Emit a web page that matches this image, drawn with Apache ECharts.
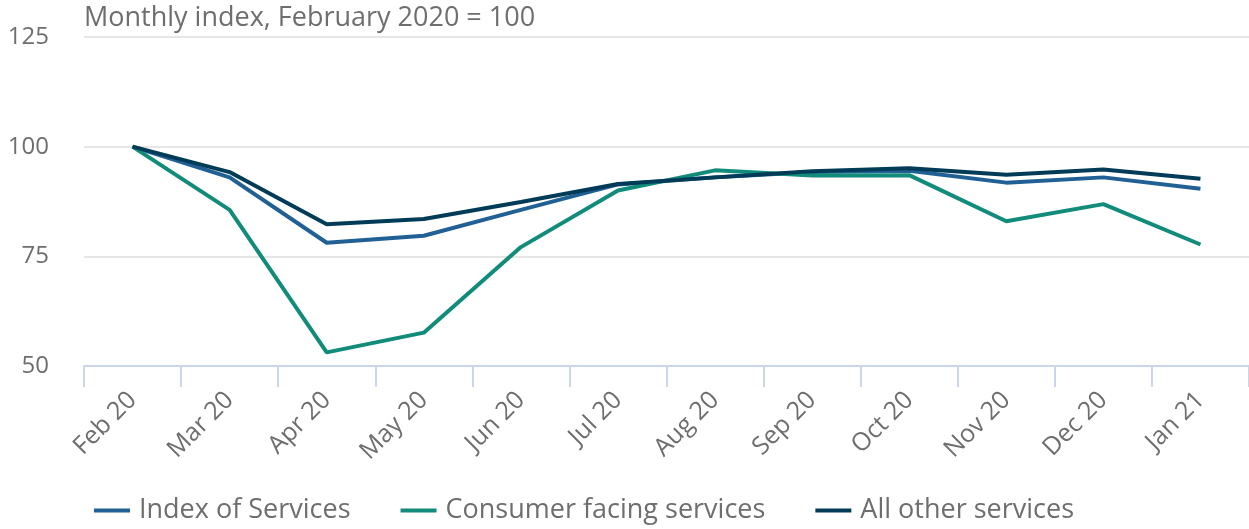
<!DOCTYPE html>
<html>
<head>
    <meta charset="utf-8">
    <title>Index of Services</title>
    <style>
        html, body { margin: 0; padding: 0; background: #fff; }
        #chart { width: 1249px; height: 529px; }
    </style>
</head>
<body>
<div id="chart"></div>
<script src="https://cdn.jsdelivr.net/npm/echarts@6/dist/echarts.min.js"></script>
<script>
    var months = ['Feb 20', 'Mar 20', 'Apr 20', 'May 20', 'Jun 20', 'Jul 20',
                  'Aug 20', 'Sep 20', 'Oct 20', 'Nov 20', 'Dec 20', 'Jan 21'];
    var indexOfServices = [100, 93.0, 78.1, 79.7, 85.6, 91.4, 93.0, 94.2, 94.5, 91.8, 93.0, 90.4];
    var consumerFacing  = [100, 85.6, 53.1, 57.6, 77.1, 90.0, 94.6, 93.4, 93.5, 83.0, 86.9, 77.7];
    var allOther        = [100, 94.2, 82.3, 83.5, 87.4, 91.5, 93.0, 94.4, 95.1, 93.6, 94.8, 92.7];

    var fontName = '"Open Sans", sans-serif';
    var greyText = '#6e6e6e';

    function lineSeries(name, color, data) {
        return {
            name: name,
            type: 'line',
            data: data,
            symbol: 'none',
            lineStyle: { color: color, width: 4 },
            itemStyle: { color: color },
            emphasis: { disabled: true }
        };
    }

    var myChart = echarts.init(document.getElementById('chart'));
    var option = {
        animation: false,
        textStyle: { fontFamily: fontName },
        title: {
            text: 'Monthly index, February 2020 = 100',
            left: 84,
            top: 5,
            padding: 0,
            textStyle: { color: greyText, fontSize: 27, fontWeight: 'normal', fontFamily: fontName }
        },
        legend: {
            bottom: 0,
            left: 89,
            itemWidth: 36,
            itemHeight: 4,
            itemGap: 50,
            icon: 'rect',
            textStyle: { color: greyText, fontSize: 27, fontFamily: fontName, padding: [0, 0, 0, 4] },
            data: ['Index of Services', 'Consumer facing services', 'All other services']
        },
        grid: { left: 84, right: -2, top: 37, bottom: 163 },
        xAxis: {
            type: 'category',
            data: months,
            boundaryGap: true,
            axisLine: { lineStyle: { color: '#ccd6eb', width: 2 } },
            axisTick: { show: true, length: 21, lineStyle: { color: '#ccd6eb', width: 2 } },
            axisLabel: { rotate: 45, color: greyText, fontSize: 25, fontFamily: fontName, margin: 30 }
        },
        yAxis: {
            type: 'value',
            min: 50,
            max: 125,
            interval: 25,
            axisLine: { show: false },
            axisTick: { show: false },
            axisLabel: { color: greyText, fontSize: 24, fontFamily: fontName, margin: 35 },
            splitLine: { lineStyle: { color: '#e6e6e6', width: 2 } }
        },
        series: [
            lineSeries('Index of Services', '#206095', indexOfServices),
            lineSeries('Consumer facing services', '#118c7b', consumerFacing),
            lineSeries('All other services', '#003c57', allOther)
        ]
    };
    myChart.setOption(option);
</script>
</body>
</html>
